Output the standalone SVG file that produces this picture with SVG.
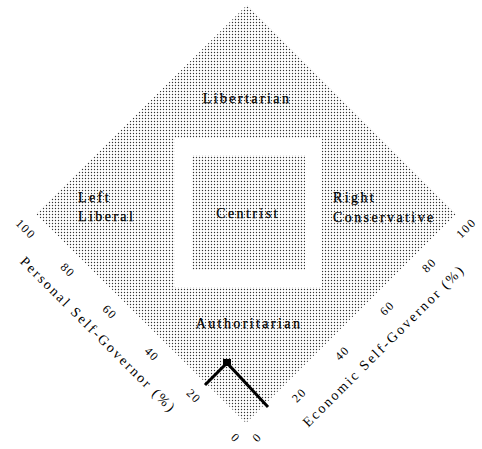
<svg xmlns="http://www.w3.org/2000/svg" width="482" height="449" viewBox="0 0 482 449">
<style>
.lbl{font-family:"Liberation Serif","Times New Roman",serif;font-size:14px;letter-spacing:2.4px;fill:#000;stroke:#000;stroke-width:0.25}
.tick{font-family:"Liberation Serif","Times New Roman",serif;font-size:12px;letter-spacing:1.5px;fill:#000;text-anchor:middle}
.ax{font-family:"Liberation Serif","Times New Roman",serif;font-size:14px;letter-spacing:2.2px;fill:#000;text-anchor:middle}
.mid{text-anchor:middle}
</style>
<defs>
<pattern id="dots" width="3" height="3" patternUnits="userSpaceOnUse">
<circle cx="1.5" cy="1.5" r="0.7" fill="#333"/>
</pattern>
</defs>
<rect width="482" height="449" fill="#fff"/>
<g id="chart">
<polygon points="247,5 456,214 246,423 36,214" fill="url(#dots)"/>
<rect x="175" y="138" width="147" height="149" fill="#fff"/>
</g>
<g id="centrist">
<rect x="192" y="155" width="113" height="115" fill="url(#dots)"/>
<text class="lbl mid" x="248" y="218">Centrist</text>
</g>
<g id="libertarian">
<text class="lbl mid" x="247" y="103">Libertarian</text>
</g>
<g id="left-liberal">
<text class="lbl" x="78" y="202">Left</text>
<text class="lbl" x="78" y="221">Liberal</text>
</g>
<g id="right-conservative">
<text class="lbl" x="333" y="202">Right</text>
<text class="lbl" x="333" y="222">Conservative</text>
</g>
<g id="authoritarian">
<text class="lbl mid" x="249" y="328">Authoritarian</text>
</g>
<g id="personal-axis">
<text class="tick" transform="translate(233,441) rotate(45)">0</text>
<text class="tick" transform="translate(191,399) rotate(45)">20</text>
<text class="tick" transform="translate(149,357) rotate(45)">40</text>
<text class="tick" transform="translate(107,315) rotate(45)">60</text>
<text class="tick" transform="translate(65,273) rotate(45)">80</text>
<text class="tick" transform="translate(23,232) rotate(45)">100</text>
<text class="ax" transform="translate(95,338) rotate(45)">Personal Self-Governor (%)</text>
</g>
<g id="economic-axis">
<text class="tick" transform="translate(260,440) rotate(-45)">0</text>
<text class="tick" transform="translate(302,398) rotate(-45)">20</text>
<text class="tick" transform="translate(345,356) rotate(-45)">40</text>
<text class="tick" transform="translate(390,311) rotate(-45)">60</text>
<text class="tick" transform="translate(432,268) rotate(-45)">80</text>
<text class="tick" transform="translate(469,231) rotate(-45)">100</text>
<text class="ax" transform="translate(387,349) rotate(-45)">Economic Self-Governor (%)</text>
</g>
<g id="connectors">
<polyline points="205,385 227,363 268,407" fill="none" stroke="#000" stroke-width="3"/>
<rect x="223" y="359" width="8" height="7" fill="#000"/>
</g>
</svg>
